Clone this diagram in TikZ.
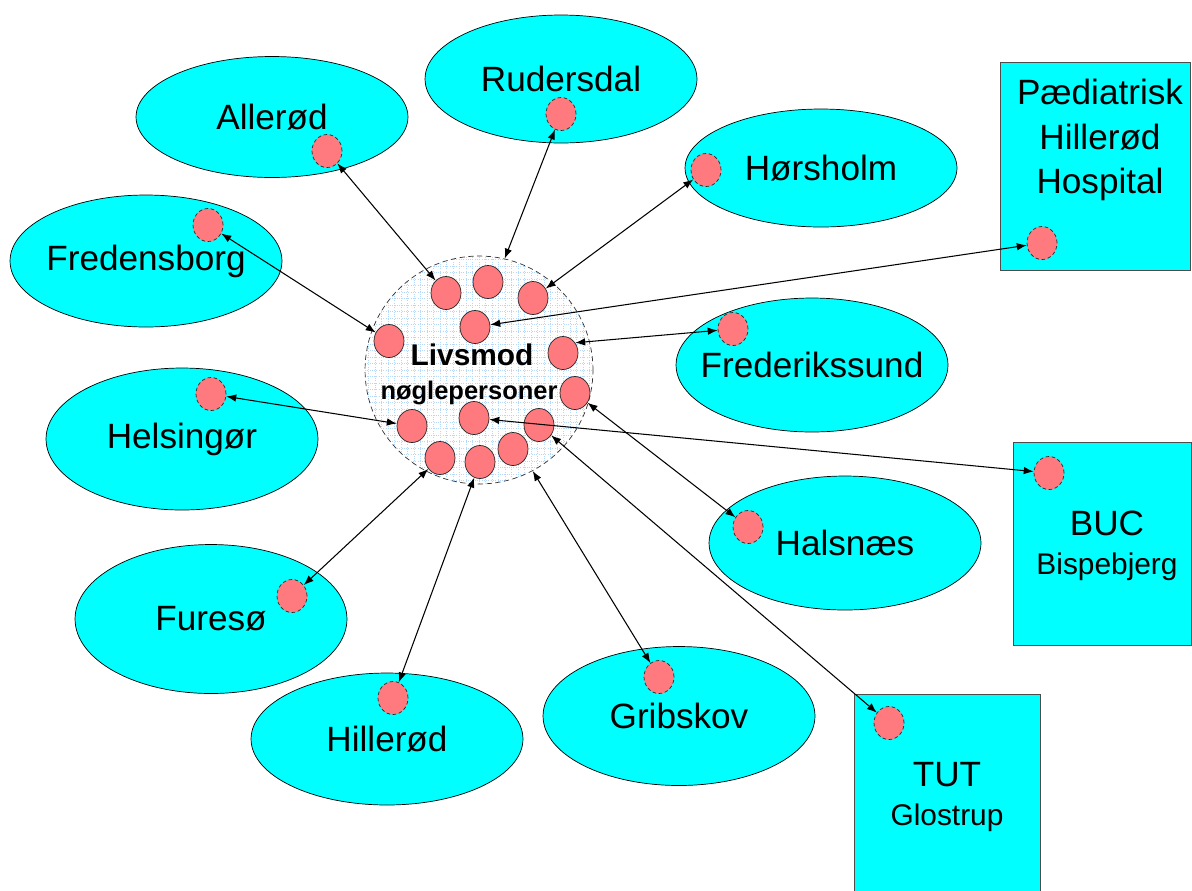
\documentclass[tikz,border=0pt]{standalone}
\usepackage{fontspec}
\setmainfont{Liberation Sans}
\usetikzlibrary{arrows.meta}
\usetikzlibrary{shapes.geometric}

\definecolor{townfill}{RGB}{0,255,255}
\definecolor{dotfill}{RGB}{255,122,126}
\definecolor{gridblue}{RGB}{180,215,250}

\tikzset{
  town/.style={ellipse,draw,fill=townfill,minimum width=5.44cm,minimum height=2.64cm,inner sep=0pt,
    font=\fontsize{20}{24}\selectfont},
  unitbox/.style={rectangle,draw=black!70,fill=townfill,inner sep=0pt},
  unittext/.style={align=center,inner sep=0pt,font=\fontsize{20}{24}\selectfont},
  subtext/.style={inner sep=0pt,font=\fontsize{17}{20}\selectfont},
  kdot/.style={ellipse,draw=black!85,fill=dotfill,minimum width=0.6cm,minimum height=0.66cm,inner sep=0pt},
  pdot/.style={kdot,dash pattern=on 2pt off 1.5pt},
  link/.style={draw,line width=0.6pt,<->,>={Latex[length=2mm,width=1.5mm]}}
}

\begin{document}
\begin{tikzpicture}[x=0.02cm,y=-0.02cm]

  \useasboundingbox (0,0) rectangle (1192,890);

  % the ten municipalities
  \node [town,minimum height=2.42cm] (allerod) at (272,117) {\makebox[0pt]{Allerød}};
  \node [town,minimum height=2.56cm] (rudersdal) at (561,79) {\makebox[0pt]{Rudersdal}};
  \node [town,minimum height=2.36cm] (horsholm) at (821,168) {\makebox[0pt]{Hørsholm}};
  \node [town,minimum height=2.64cm] (fredensborg) at (146,261) {\makebox[0pt]{Fredensborg}};
  \node [town,minimum height=2.68cm] (frederikssund) at (812,365) {\makebox[0pt]{Frederikssund}};
  \node [town,minimum height=2.84cm] (helsingor) at (182,439) {\makebox[0pt]{Helsingør}};
  \node [town,minimum height=2.68cm] (halsnaes) at (845,543) {\makebox[0pt]{Halsnæs}};
  \node [town,minimum height=2.98cm] (fureso) at (211,619) {\makebox[0pt]{Furesø}};
  \node [town,minimum height=2.64cm] (hillerod) at (387,739) {\makebox[0pt]{Hillerød}};
  \node [town,minimum height=2.78cm] (gribskov) at (679,716) {\makebox[0pt]{Gribskov}};

  % hospital units
  \node [unitbox,minimum width=3.8cm,minimum height=4.16cm] (paed) at (1095,166) {};
  \node [unittext] (paed_t) at (1100,140) {Pædiatrisk\\[1.5pt]Hillerød\\[1.5pt]Hospital};
  \node [unitbox,minimum width=3.56cm,minimum height=4.06cm] (buc) at (1102,543.5) {};
  \node [unittext] (buc_t) at (1107,523) {BUC};
  \node [subtext] (buc_s) at (1107,567) {Bispebjerg};
  \node [unitbox,minimum width=3.72cm,minimum height=4.24cm] (tut) at (947,800) {};
  \node [unittext] (tut_t) at (947,775) {TUT};
  \node [subtext] (tut_s) at (947,818) {Glostrup};

  % contact persons out there
  \node [pdot] (allerod_p) at (327,151) {};
  \node [pdot] (rudersdal_p) at (561,114) {};
  \node [pdot] (horsholm_p) at (706,170) {};
  \node [pdot] (fredensborg_p) at (208,225) {};
  \node [pdot] (frederikssund_p) at (733,329) {};
  \node [pdot] (helsingor_p) at (211,394) {};
  \node [pdot] (halsnaes_p) at (748,527) {};
  \node [pdot] (fureso_p) at (292,596) {};
  \node [pdot] (hillerod_p) at (393,698) {};
  \node [pdot] (gribskov_p) at (659,677) {};
  \node [pdot] (paed_p) at (1042,243) {};
  \node [pdot] (buc_p) at (1049,473) {};
  \node [pdot] (tut_p) at (889,723) {};

  % Livsmod and its key persons
  \node [circle,draw=black!80,dash pattern=on 3pt off 2pt,fill=white,minimum size=4.56cm,inner sep=0pt,
    path picture={\draw [gridblue,line width=0.3pt,dash pattern=on 0.5pt off 0.8pt,step=0.13cm]
      (path picture bounding box.south west) grid (path picture bounding box.north east);}] (livsmod) at (479,370) {};
  \node [font=\bfseries\fontsize{17}{20}\selectfont] (livsmod_t) at (472,355) {Livsmod};
  \node [font=\bfseries\fontsize{14.5}{17}\selectfont] (livsmod_s) at (469,393) {nøglepersoner};

  \node [kdot] (k_1) at (446,293) {};
  \node [kdot] (k_2) at (488,282) {};
  \node [kdot] (k_3) at (533,298) {};
  \node [kdot] (k_4) at (475,327) {};
  \node [kdot] (k_5) at (389,341) {};
  \node [kdot] (k_6) at (563,353) {};
  \node [kdot] (k_7) at (575,393) {};
  \node [kdot] (k_8) at (412,426) {};
  \node [kdot] (k_9) at (474,418) {};
  \node [kdot] (k_10) at (539,425) {};
  \node [kdot] (k_11) at (513,449) {};
  \node [kdot] (k_12) at (440,458) {};
  \node [kdot] (k_13) at (480,462) {};

  \path [link]
    (allerod_p) edge (k_1)
    (rudersdal_p) edge (livsmod.77)
    (horsholm_p) edge (k_3)
    (paed_p) edge (k_4)
    (fredensborg_p) edge (k_5)
    (frederikssund_p) edge (k_6.40)
    (halsnaes_p) edge (k_7)
    (helsingor_p) edge (k_8)
    (buc_p) edge (k_9)
    (tut_p) edge (k_10)
    (gribskov_p) edge (livsmod.-62)
    (fureso_p) edge (k_12)
    (hillerod_p) edge (k_13);

\end{tikzpicture}
\end{document}
